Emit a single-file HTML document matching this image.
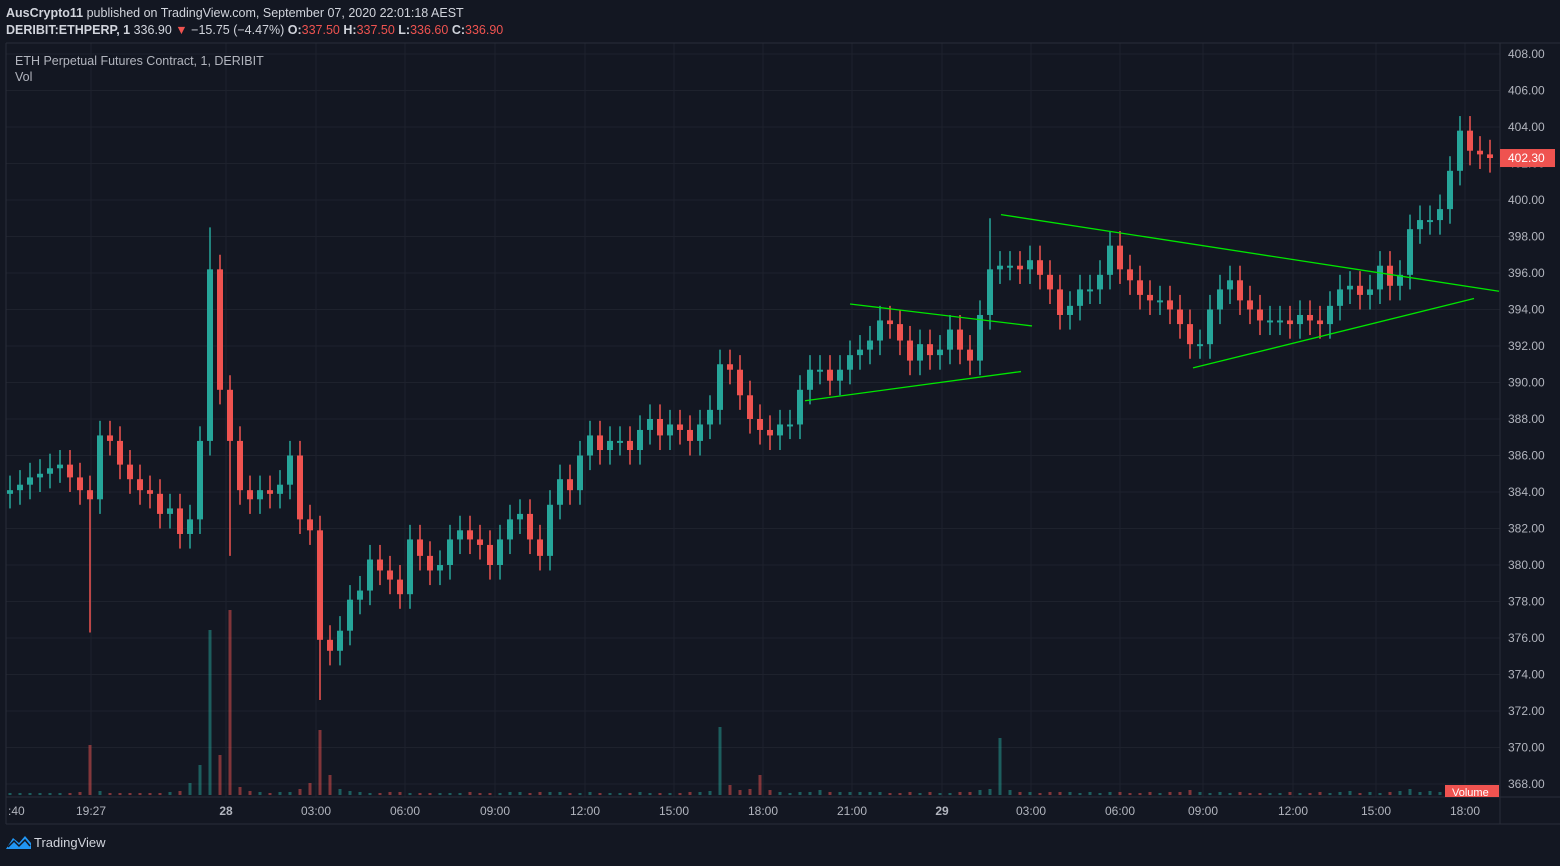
<!DOCTYPE html>
<html><head><meta charset="utf-8">
<style>
html,body{margin:0;padding:0;background:#131722;}
body{width:1560px;height:861px;overflow:hidden;font-family:"Liberation Sans",sans-serif;}
svg text{font-family:"Liberation Sans",sans-serif;}
</style></head>
<body>
<svg id="chart" width="1560" height="861" xmlns="http://www.w3.org/2000/svg">
<rect x="0" y="0" width="1560" height="861" fill="#131722"/>
<g id="grid"></g>
<g id="vol"></g>
<g id="candles"></g>
<g id="lines"></g>
<line x1="6" y1="43" x2="1560" y2="43" stroke="#2a2e39"/>
<line x1="6" y1="43" x2="6" y2="824" stroke="#2a2e39"/>
<line x1="1500" y1="43" x2="1500" y2="824" stroke="#2a2e39"/>
<line x1="6" y1="797" x2="1560" y2="797" stroke="#2a2e39"/>
<line x1="6" y1="824" x2="1560" y2="824" stroke="#2a2e39"/>
<g id="yaxis"></g>
<g id="xaxis"></g>
<text x="6" y="17" font-size="12.5" fill="#d1d4dc"><tspan font-weight="bold">AusCrypto11</tspan> published on TradingView.com, September 07, 2020 22:01:18 AEST</text>
<text x="6" y="34" font-size="12.5" fill="#d1d4dc"><tspan font-weight="bold">DERIBIT:ETHPERP, 1</tspan> 336.90 <tspan fill="#ef5350">▼</tspan> −15.75 (−4.47%) <tspan font-weight="bold">O:</tspan><tspan fill="#ef5350">337.50</tspan> <tspan font-weight="bold">H:</tspan><tspan fill="#ef5350">337.50</tspan> <tspan font-weight="bold">L:</tspan><tspan fill="#ef5350">336.60</tspan> <tspan font-weight="bold">C:</tspan><tspan fill="#ef5350">336.90</tspan></text>
<text x="15" y="65" font-size="12.5" fill="#b2b5be">ETH Perpetual Futures Contract, 1, DERIBIT</text>
<text x="15" y="81" font-size="12.5" fill="#b2b5be">Vol</text>
<rect x="1445" y="785" width="54" height="12" fill="#ef5350"/>
<text x="1452" y="796" font-size="11" fill="#fff">Volume</text>
<g>
<path d="M6 849 L13 838 L19 843 L25 836 L31 843 L31 849 Z" fill="#2196f3"/>
<path d="M8 847 L14 841 L19 846 L25 840 L30 846" stroke="#131722" stroke-width="1.5" fill="none"/>
<text x="34" y="847" font-size="13" fill="#d1d4dc">TradingView</text>
</g>
</svg>
<script>
const closes=[384.1,384.4,384.8,385.0,385.3,385.5,384.8,384.1,383.6,387.1,386.8,385.5,384.7,384.1,383.9,382.8,383.1,381.7,382.5,386.8,396.2,389.6,386.8,384.1,383.6,384.1,383.9,384.4,386.0,382.5,381.9,375.9,375.3,376.4,378.1,378.6,380.3,379.7,379.2,378.4,381.4,380.5,379.7,380.0,381.4,381.9,381.4,381.1,380.0,381.4,382.5,382.8,381.4,380.5,383.3,384.7,384.1,386.0,387.1,386.3,386.8,386.8,386.3,387.4,388.0,387.1,387.7,387.4,386.8,387.7,388.5,391.0,390.7,389.3,388.0,387.4,387.1,387.7,387.7,389.6,390.7,390.7,390.1,390.7,391.5,391.8,392.3,393.4,393.2,392.3,391.2,392.1,391.5,391.8,392.9,391.8,391.2,393.7,396.2,396.4,396.4,396.2,396.7,395.9,395.1,393.7,394.2,395.1,395.1,395.9,397.5,396.2,395.6,394.8,394.5,394.5,394.0,393.2,392.1,392.1,394.0,395.1,395.6,394.5,394.0,393.4,393.4,393.4,393.2,393.7,393.4,393.2,394.2,395.1,395.3,394.8,395.1,396.4,395.3,395.9,398.4,398.9,398.9,399.5,401.6,403.8,402.7,402.5,402.3];
const spikeIdx=[8,20,22,31,98,145];
const spikeHigh=[384.5,398.5,389.0,379.0,399.0,404.5];
const spikeLow=[376.3,389.0,380.5,372.6,393.5,401.0];
const volumes=[2,2,2,2,2,2,2,3,50,4,2,2,2,2,2,2,3,4,12,30,165,40,185,8,4,3,2,3,3,6,12,65,20,6,4,3,2,2,3,3,2,2,2,2,2,2,3,2,2,2,3,3,2,3,3,3,2,2,3,2,2,2,2,3,2,2,2,2,3,3,4,68,10,5,6,20,5,3,2,3,3,5,3,3,3,3,3,3,2,2,3,2,3,2,2,3,3,5,6,57,5,3,3,2,3,3,3,2,3,2,3,3,2,2,3,2,3,3,5,3,2,3,2,3,2,2,2,2,3,2,2,3,2,3,4,2,3,2,3,4,6,3,4,3,10,5,3,2,2];
const priceTicks=[408,406,404,402,400,398,396,394,392,390,388,386,384,382,380,378,376,374,372,370,368];
const timeLabels=[":40","19:27","28","03:00","06:00","09:00","12:00","15:00","18:00","21:00","29","03:00","06:00","09:00","12:00","15:00","18:00"];
const timeBarPos=[-1,8.1,21.6,30.6,39.5,48.5,57.5,66.4,75.3,84.2,93.2,102.1,111,119.3,128.3,136.6,145.5];
const lineStart=[[84,394.3],[79.5,389.0],[99.1,399.2],[118.3,390.8]];
const lineEnd=[[102.2,393.1],[101.1,390.6],[148.9,395.0],[146.4,394.6]];
const lastPrice=402.30;

const NS="http://www.w3.org/2000/svg";
function y(p){return 54+(408-p)*18.25;}
function x(i){return 10+i*10;}
function vy(v){return 795-v;}
function mk(tag,attrs,parent){const e=document.createElementNS(NS,tag);for(const k in attrs)e.setAttribute(k,attrs[k]);parent.appendChild(e);return e;}
const G=document.getElementById('grid'),C=document.getElementById('candles'),V=document.getElementById('vol'),L=document.getElementById('lines'),YA=document.getElementById('yaxis'),XA=document.getElementById('xaxis');
priceTicks.forEach(p=>{
  const gl=mk('line',{x1:6,x2:1500,y1:y(p),y2:y(p),stroke:'#1e222d'},G);
  
  
  const t=mk('text',{x:1508,y:y(p)+4,'font-size':12,fill:'#b2b5be'},YA);
  t.textContent=p.toFixed(2);
  
  
});
timeLabels.forEach((lab,k)=>{
  const xx=x(timeBarPos[k]);
  if(k>0){const gl=mk('line',{x1:xx,x2:xx,y1:43,y2:797,stroke:'#1e222d'},G);
  
  }
  const t=mk('text',{x:Math.max(xx,8),y:815,'font-size':12,fill:'#b2b5be','text-anchor':k==0?'start':'middle','font-weight':(lab.length<=2&&lab[0]!=':')?'bold':'normal'},XA);
  t.textContent=lab;
  
  
});
volumes.forEach((v,i)=>{
  const up=i==0||closes[i]>=closes[i-1];
  const r=mk('rect',{x:x(i)-1.5,y:vy(v),width:3,height:v,fill:up?'rgba(38,166,154,0.5)':'rgba(239,83,80,0.5)'},V);
  
  
});
closes.forEach((c,i)=>{
  const o=i==0?c-0.2:closes[i-1];
  let hi=Math.max(o,c)+0.8,lo=Math.min(o,c)-0.8;
  const s=spikeIdx.indexOf(i);
  if(s>=0){hi=Math.max(hi,spikeHigh[s]);lo=Math.min(lo,spikeLow[s]);}
  const col=c>=o?'#26a69a':'#ef5350';
  const w=mk('line',{x1:x(i),x2:x(i),y1:y(hi),y2:y(lo),stroke:col,'stroke-width':1.5},C);
  
  
  const top=y(Math.max(o,c)),h=Math.max(2,y(Math.min(o,c))-top);
  const b=mk('rect',{x:x(i)-3,y:top,width:6,height:h,fill:col},C);
  
  
});
lineStart.forEach((s,k)=>{
  const e=lineEnd[k];
  const l=mk('line',{x1:x(s[0]),y1:y(s[1]),x2:x(e[0]),y2:y(e[1]),stroke:'#00e600','stroke-width':1.3},L);
  
  
});
const pl=mk('rect',{x:1500,y:y(lastPrice)-9,width:55,height:18,fill:'#ef5350'},YA);


const pt=mk('text',{x:1508,y:y(lastPrice)+4,'font-size':12,fill:'#ffffff'},YA);
pt.textContent=lastPrice.toFixed(2);


</script>
</body></html>
